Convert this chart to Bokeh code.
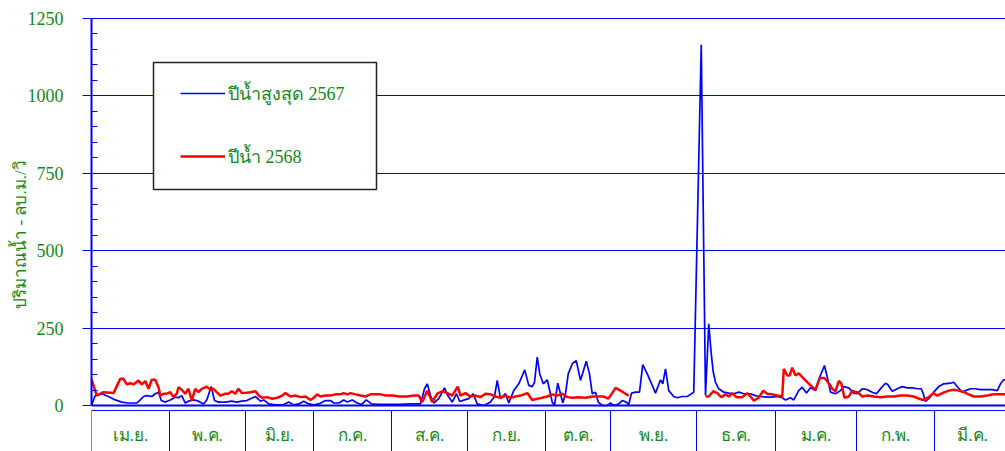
import math
from bokeh.plotting import figure
from bokeh.models import Legend, LegendItem, FixedTicker, Range1d, Span, BoxAnnotation
from bokeh.core.properties import value
from bokeh.embed import file_html
from bokeh.resources import INLINE

NAN = float("nan")

# ---- data (day index from 1 April, values in m3/s) ----
months = ["เม.ย.", "พ.ค.", "มิ.ย.", "ก.ค.", "ส.ค.", "ก.ย.", "ต.ค.", "พ.ย.", "ธ.ค.", "ม.ค.", "ก.พ.", "มี.ค."]
month_edges = [0, 31.2, 61.6, 88.8, 120, 150.4, 181.6, 207.6, 242, 273.6, 306, 337.2, 367.6]

y_ticks = [0, 250, 500, 750, 1000, 1250]
y_minor = [50, 100, 150, 200, 300, 350, 400, 450, 550, 600, 650, 700,
           800, 850, 900, 950, 1050, 1100, 1150, 1200]
y_title = "ปริมาณน้ำ - ลบ.ม./วิ"

blue_label = "ปีน้ำสูงสุด 2567"
blue_day = [0, 1.5, 4.1, 6.8, 9.5, 12.1, 14.8, 18.1, 19.5, 20.8, 22.1, 24.1, 25.5, 26.8, 27.9,
            29.5, 31.5, 33.5, 34.8, 36.1, 37.5, 38.8, 40.8, 42.8, 44.8, 46.1, 47.9, 49.2, 50.8,
            53.5, 56.1, 58.1, 60.1, 62.1, 63.6, 65.6, 67.6, 68.9, 70.9, 73.6, 76.9, 78.9, 80.9,
            82.9, 84.9, 86.9, 88.9, 90.9, 93.6, 95.6, 96.9, 98.9, 100.9, 102.3, 104.3, 106.3,
            108.0, 109.9, 112.0, 114.9, 118.9, 122.9, 127.6, 131.6, 133.2, 134.3, 135.6, 136.9,
            138.9, 141.2, 142.5, 144.3, 146.0, 147.3, 149.2, 150.9, 152.7, 154.3, 156.9, 159.6,
            161.2, 162.3, 163.6, 165.6, 166.9, 168.9, 170.9, 173.3, 174.9, 176.3, 177.2, 178.3,
            179.3, 180.7, 182.3, 184.3, 185.2, 186.5, 187.6, 188.5, 189.6, 190.7, 192.3, 193.9,
            195.6, 197.9, 199.2, 200.3, 201.6, 202.7, 204.3, 206.3, 207.6, 208.9, 210.9, 212.3,
            213.9, 214.9, 216.0, 217.6, 219.2, 220.5, 222.3, 224.3, 225.6, 227.6, 228.5, 229.6,
            230.9, 232.9, 234.3, 236.3, 238.3, 239.6, 240.9, 243.9, 245.6, 246.9, 247.9, 248.7,
            249.6, 250.9, 252.9, 254.9, 256.9, 258.9, 260.9, 263.6, 265.6, 267.6, 270.3, 272.3,
            274.3, 276.3, 277.6, 279.6, 280.9, 282.9, 284.3, 286.0, 287.6, 289.6, 291.3, 293.2,
            294.3, 295.6, 297.6, 299.6, 300.9, 302.9, 304.9, 306.3, 308.3, 310.3, 312.3, 314.0,
            315.9, 317.6, 318.5, 320.3, 322.3, 324.3, 326.3, 328.3, 330.3, 331.9, 332.7, 333.6,
            334.9, 336.9, 338.9, 340.9, 343.6, 344.9, 346.5, 348.3, 349.6, 351.6, 353.6, 355.6,
            358.3, 360.3, 362.3, 363.6, 364.9, 365.6]
blue_val = [2, 32, 38, 29, 18, 11, 8, 8, 18, 29, 32, 29, 38, 43, 16,
            11, 18, 27, 25, 32, 8, 14, 18, 14, 5, 18, 61, 16, 11,
            11, 14, 11, 14, 16, 22, 29, 14, 18, 5, 2, 3, 11, 2,
            5, 14, 5, 2, 5, 16, 16, 8, 8, 18, 11, 18, 8,
            3, 18, 5, 4, 4, 4, 5, 5, 54, 70, 32, 8,
            22, 57, 32, 11, 38, 13, 18, 22, 38, 5, 0, 11,
            29, 81, 22, 38, 8, 48, 70, 115, 65, 61, 75, 156,
            102, 70, 83, 11, 0, 72, 38, 8, 38, 102, 135, 145,
            81, 143, 102, 38, 43, 11, 0, 0, 8, 0, 5, 16,
            11, 3, 40, 43, 43, 132, 102, 65, 40, 83, 70, 118,
            48, 29, 25, 29, 29, 36, 43, 1165, 32, 264, 167, 108,
            75, 54, 43, 40, 38, 43, 38, 38, 32, 29, 27, 27,
            29, 25, 18, 25, 18, 48, 59, 40, 57, 48, 92, 129,
            92, 43, 38, 48, 61, 57, 40, 38, 54, 51, 43, 38,
            57, 72, 68, 46, 54, 61, 57, 57, 54, 54, 38, 13,
            22, 43, 61, 70, 72, 75, 59, 43, 48, 54, 54, 51,
            51, 51, 48, 70, 83, 83]

red_label = "ปีน้ำ 2568"
red_day = [0, 2.1, 4.8, 8.8, 11.5, 12.8, 14.1, 15.5, 16.8, 18.8, 20.1, 21.5, 22.8, 24.1, 25.5,
           26.8, 27.5, 28.8, 30.1, 31.5, 32.8, 34.1, 34.8, 36.1, 37.5, 38.8, 40.1, 41.5, 42.8,
           44.1, 46.1, 47.5, 48.8, 50.1, 51.5, 53.5, 54.8, 56.1, 57.5, 58.8, 60.1, 62.1, 63.6,
           65.6, 66.9, 68.3, 70.3, 72.3, 74.3, 76.3, 77.6, 79.6, 81.6, 83.6, 85.6, 87.6, 88.9,
           90.3, 91.6, 93.6, 95.6, 97.6, 99.6, 100.9, 102.3, 103.6, 105.6, 107.6, 109.6, 111.6,
           113.6, 115.6, 117.6, 120.3, 122.9, 126.3, 128.9, 130.9, 132.3, 134.3, 136.3, 138.3,
           140.3, 142.3, 144.3, 146.5, 147.6, 149.6, 151.6, 153.6, 155.6, 157.6, 159.6, 161.6,
           163.6, 165.6, 167.6, 169.6, 171.6, 174.3, 176.3, 178.3, 180.3, 182.3, 184.3, 186.3,
           188.3, 190.3, 192.3, 194.9, 197.6, 200.3, 202.9, 204.9, 206.7, 208.3, 209.6, 211.6,
           213.6, 214.9, 230.0, 245.6, 246.9, 248.7, 250.3, 251.9, 253.6, 254.9, 256.3, 258.0,
           260.3, 262.3, 263.6, 264.9, 266.9, 268.7, 270.3, 272.3, 274.3, 276.3, 276.9, 278.3,
           279.3, 280.3, 281.6, 282.9, 284.3, 285.6, 287.6, 289.6, 291.3, 293.2, 294.9, 296.3,
           297.6, 298.9, 299.9, 301.2, 302.9, 304.3, 305.6, 306.5, 308.3, 310.3, 312.9, 315.6,
           318.3, 320.9, 323.6, 326.3, 328.9, 330.9, 332.9, 334.9, 336.7, 338.3, 340.3, 342.9,
           344.9, 346.9, 348.9, 350.9, 352.9, 355.6, 358.3, 360.9, 363.6, 365.6]
red_val = [85, 32, 43, 40, 86, 86, 68, 72, 68, 81, 68, 79, 54, 83, 83,
           59, 32, 38, 38, 43, 27, 38, 59, 51, 38, 54, 16, 54, 43,
           54, 61, 51, 54, 43, 32, 38, 38, 46, 38, 54, 40, 41, 43,
           46, 32, 25, 27, 22, 25, 32, 40, 29, 32, 27, 29, 18, 25,
           36, 29, 32, 32, 36, 36, 40, 36, 40, 36, 32, 29, 36,
           36, 36, 32, 32, 29, 29, 32, 32, 11, 48, 11, 38,
           46, 40, 32, 61, 32, 40, 29, 32, 27, 38, 36, 29,
           25, 32, 25, 29, 32, 40, 18, 22, 25, 29, 36, 32,
           38, 27, 25, 27, 25, 29, 29, 29, 22, 40, 57, 48,
           38, 32, NAN, 29, 29, 46, 40, 27, 36, 29, 40, 27,
           27, 40, 29, 16, 25, 48, 38, 36, 32, 29, 118, 97,
           97, 122, 97, 104, 92, 81, 65, 51, 89, 89, 72, 54,
           46, 79, 72, 25, 29, 48, 43, 43, 29, 32, 29, 27,
           29, 29, 32, 32, 29, 22, 18, 27, 40, 32, 40, 48,
           51, 48, 43, 36, 29, 29, 32, 36, 36, 36]

# ---- styles ----
GREEN = "#138a13"
BLUE = "#0000FF"
RED = "#FF0000"
SERIF = "Liberation Serif"

p = figure(width=1005, height=451,
           x_range=Range1d(0, 365.6), y_range=Range1d(-148.6, 1253.2),
           x_axis_location=None,
           output_backend="svg", toolbar_location=None,
           min_border_left=91, min_border_right=0, min_border_top=17, min_border_bottom=0)
p.outline_line_color = None
p.background_fill_color = "white"
p.xgrid.visible = False
p.ygrid.ticker = FixedTicker(ticks=y_ticks[1:])
p.ygrid.grid_line_color = BLUE
p.ygrid.grid_line_width = 1

ax = p.yaxis[0]
ax.ticker = FixedTicker(ticks=y_ticks, minor_ticks=y_minor)
ax.bounds = (0, 1250)
ax.axis_line_color = BLUE
ax.axis_line_width = 2
ax.major_tick_line_color = BLUE
ax.major_tick_out = 9
ax.major_tick_in = 0
ax.minor_tick_line_color = BLUE
ax.minor_tick_in = 6
ax.minor_tick_out = 0
ax.major_label_standoff = 19
ax.major_label_text_color = GREEN
ax.major_label_text_font = SERIF
ax.major_label_text_font_size = "18px"
ax.axis_label = y_title
ax.axis_label_text_color = GREEN
ax.axis_label_text_font = SERIF
ax.axis_label_text_font_style = "normal"
ax.axis_label_text_font_size = "17px"
ax.axis_label_standoff = -5

# zero line and month box
p.add_layout(Span(location=0, dimension="width", line_color=BLUE, line_width=2))
p.add_layout(Span(location=-16, dimension="width", line_color=BLUE, line_width=1))
p.segment(x0=month_edges, y0=[-16] * len(month_edges), x1=month_edges, y1=[-150] * len(month_edges),
          line_color=BLUE, line_width=1)
centers = [(month_edges[i] + month_edges[i + 1]) / 2 for i in range(len(months))]
p.text(x=centers, y=[-97] * len(months), text=months, text_align="center",
       text_baseline="middle", text_color=GREEN, text_font=value(SERIF),
       text_font_size="17px")

rb = p.line(blue_day, blue_val, line_color=BLUE, line_width=1.7)
rr = p.line(red_day, red_val, line_color=RED, line_width=2.5)

# legend frame
p.add_layout(BoxAnnotation(left=24.8, right=114.0, top=1108, bottom=698,
                           fill_color="white", fill_alpha=1.0,
                           line_color="#222222", line_width=1.5, line_alpha=1.0))

legend = Legend(items=[LegendItem(label=blue_label, renderers=[rb]),
                       LegendItem(label=red_label, renderers=[rr])],
                location=(89, 280), orientation="vertical",
                padding=5, spacing=33, glyph_width=45, glyph_height=30,
                label_height=30, label_standoff=3,
                border_line_color=None, background_fill_alpha=0.0,
                label_text_font=SERIF, label_text_font_size="18px",
                label_text_color=GREEN)
p.add_layout(legend)

open("out.html", "w").write(file_html(p, INLINE))
